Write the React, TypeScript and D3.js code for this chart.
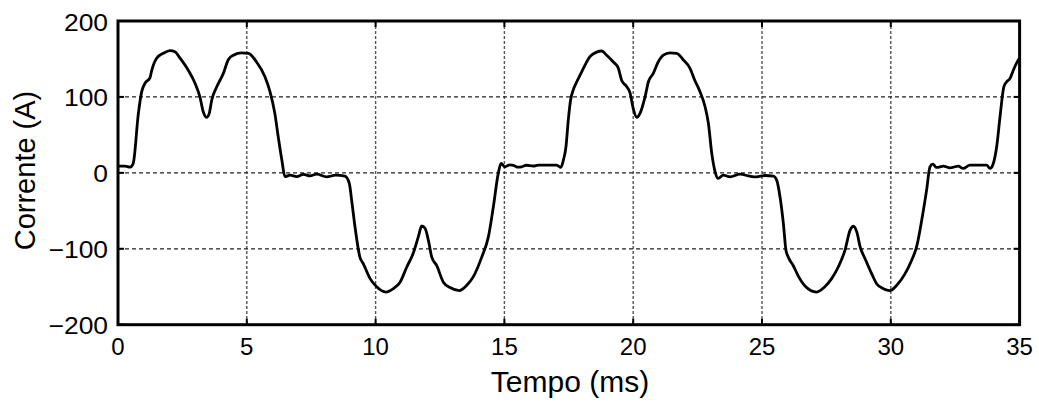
import React from "react";
import * as d3 from "d3";

const xTicks = [0, 5, 10, 15, 20, 25, 30, 35];
const yTicks = [-200, -100, 0, 100, 200];

const timeMs = [
  0, 0.27, 0.47, 0.59, 0.79, 0.92, 1.05, 1.24, 1.31, 1.5, 1.76, 2.02, 2.21, 2.41, 2.73, 2.99, 3.18, 3.31, 3.44, 3.54, 3.64, 3.83, 4.09, 4.28, 4.48, 4.8, 5.06, 5.38, 5.7, 5.9, 6.09, 6.22, 6.36, 6.48, 6.68, 6.94, 7.2, 7.45, 7.71, 8.1, 8.45, 8.81, 8.98, 9.07, 9.2, 9.39, 9.52, 9.78, 10.04, 10.4, 10.69, 10.95, 11.21, 11.46, 11.66, 11.79, 11.92, 12.05, 12.18, 12.37, 12.63, 12.89, 13.25, 13.54, 13.79, 14.12, 14.38, 14.57, 14.76, 14.87, 15.02, 15.2, 15.35, 15.5, 15.67, 15.85, 16.12, 16.32, 17.03, 17.19, 17.29, 17.39, 17.48, 17.57, 17.67, 17.81, 18.0, 18.13, 18.32, 18.58, 18.78, 18.97, 19.23, 19.42, 19.55, 19.75, 19.88, 20.0, 20.14, 20.26, 20.46, 20.59, 20.78, 20.97, 21.17, 21.43, 21.69, 21.94, 22.2, 22.39, 22.59, 22.79, 22.92, 23.05, 23.18, 23.3, 23.5, 23.76, 24.15, 24.53, 24.79, 25.1, 25.44, 25.57, 25.7, 25.83, 25.93, 26.02, 26.21, 26.41, 26.67, 27.12, 27.44, 27.71, 27.96, 28.22, 28.42, 28.55, 28.68, 28.81, 29.0, 29.26, 29.45, 29.71, 29.97, 30.23, 30.55, 30.81, 31.0, 31.2, 31.39, 31.52, 31.63, 31.78, 32.04, 32.3, 32.62, 32.81, 33.07, 33.72, 33.85, 33.98, 34.11, 34.24, 34.39, 34.5, 34.63, 34.76, 34.95, 35.0,
];

const currentA = [
  8.8, 8.8, 7.5, 12.4, 78, 107, 118, 125, 135, 151, 157.5, 161, 159.6, 151, 135, 118, 100, 80.5, 73, 78, 96, 113, 131, 149, 155, 158, 157.5, 146, 127, 107, 78, 47.5, 17, -5, -3, -5, -2, -4, -1.7, -5.3, -3, -4.4, -14, -36, -71, -111, -119.5, -139, -150, -157, -152.5, -144, -124, -106, -84, -70, -73, -89, -111, -122, -144, -151, -155, -148, -137, -111, -84, -45, -1, 12.4, 8, 10.5, 10, 7.5, 8, 10, 9, 10.2, 10.2, 7.1, 16.8, 34.3, 69.5, 95.9, 109, 120, 133, 142, 153, 159, 160.5, 155, 146, 138, 122, 113.5, 105, 85, 73, 78, 100, 120, 131, 146, 155, 158, 157.5, 149, 138, 122, 107, 87, 65, 25.6, 1.3, -7.4, -3, -5.3, -1.7, -4.4, -5.3, -3.5, -4.4, -9.6, -31.7, -66.8, -102, -111, -122, -136, -149, -157, -150, -139, -124, -102, -75.5, -70.3, -77.8, -97.6, -113, -133, -146, -152.5, -155, -148, -133, -115, -97.6, -62.4, -22.8, 7.9, 11.5, 7.1, 8.8, 6.6, 8.8, 5.8, 10.2, 10.2, 5.8, 12.4, 34.3, 73.9, 113.5, 120, 124.5, 135.5, 148.7, 151,
];

const W = 1039;
const H = 403;
const left = 118;
const right = 1019.6;
const top = 21;
const bottom = 324.7;
const font = "'Liberation Sans', Arial, Helvetica, sans-serif";

export default function App() {
  const x = d3.scaleLinear().domain([0, 35]).range([left, right]);
  const y = d3.scaleLinear().domain([-200, 200]).range([bottom, top]);
  const pts: [number, number][] = timeMs.map((t, i) => [t, currentA[i]]);
  const line = d3
    .line<[number, number]>()
    .x((d) => x(d[0]))
    .y((d) => y(d[1]))
    .curve(d3.curveMonotoneX);
  const tickLen = 6;
  return (
    <svg
      width={W}
      height={H}
      style={{ position: "absolute", left: 0, top: 0, background: "#fff" }}
    >
      <rect x={0} y={0} width={W} height={H} fill="#fff" />
      {xTicks.slice(1, -1).map((t) => (
        <line
          key={"gx" + t}
          x1={x(t)}
          x2={x(t)}
          y1={top}
          y2={bottom}
          stroke="#555"
          strokeWidth={1.4}
          strokeDasharray="3,2"
        />
      ))}
      {yTicks.slice(1, -1).map((v) => (
        <line
          key={"gy" + v}
          x1={left}
          x2={right}
          y1={y(v)}
          y2={y(v)}
          stroke="#222"
          strokeWidth={1.3}
          strokeDasharray="4,3"
        />
      ))}
      {xTicks.map((t) => (
        <g key={"tx" + t}>
          <line x1={x(t)} x2={x(t)} y1={bottom} y2={bottom - tickLen} stroke="#000" strokeWidth={2} />
          <line x1={x(t)} x2={x(t)} y1={top} y2={top + tickLen} stroke="#000" strokeWidth={2} />
        </g>
      ))}
      {yTicks.map((v) => (
        <g key={"ty" + v}>
          <line x1={left} x2={left + tickLen} y1={y(v)} y2={y(v)} stroke="#000" strokeWidth={2} />
          <line x1={right} x2={right - tickLen} y1={y(v)} y2={y(v)} stroke="#000" strokeWidth={2} />
        </g>
      ))}
      <path d={line(pts) || ""} fill="none" stroke="#000" strokeWidth={2.8} strokeLinejoin="round" />
      <rect
        x={left}
        y={top}
        width={right - left}
        height={bottom - top}
        fill="none"
        stroke="#000"
        strokeWidth={3}
      />
      {xTicks.map((t) => (
        <text
          key={"lx" + t}
          x={x(t)}
          y={355}
          textAnchor="middle"
          fontFamily={font}
          fontSize={24}
          fill="#000"
        >
          {t}
        </text>
      ))}
      {yTicks.map((v) => (
        <text
          key={"ly" + v}
          transform={`translate(108,${y(v) + 9.5}) scale(1.1,1)`}
          textAnchor="end"
          fontFamily={font}
          fontSize={24}
          fill="#000"
        >
          {v < 0 ? "\u2212" + Math.abs(v) : String(v)}
        </text>
      ))}
      <text
        x={570}
        y={392}
        textAnchor="middle"
        fontFamily={font}
        fontSize={30}
        fill="#000"
      >
        Tempo (ms)
      </text>
      <text
        transform={`translate(35,170.5) rotate(-90)`}
        textAnchor="middle"
        fontFamily={font}
        fontSize={29}
        fill="#000"
      >
        Corrente (A)
      </text>
    </svg>
  );
}
